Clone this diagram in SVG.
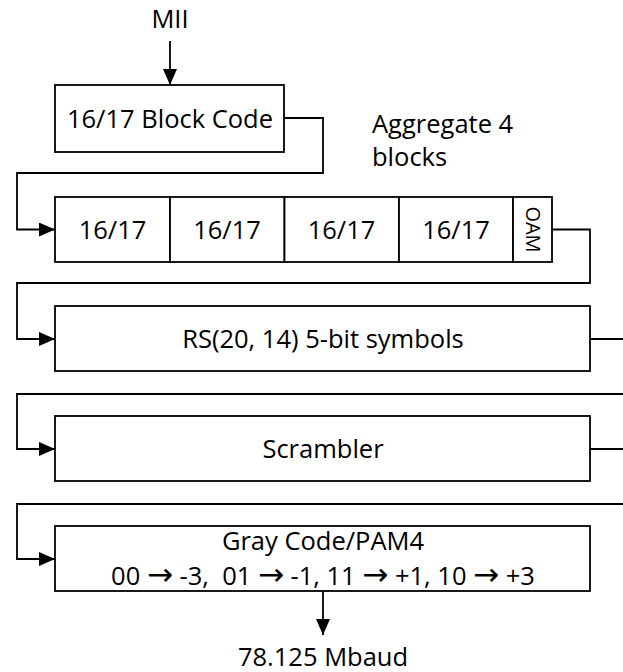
<svg xmlns="http://www.w3.org/2000/svg" width="623" height="672" viewBox="0 0 623 672">
  <style>
    .box { fill: #ffffff; stroke: #000000; stroke-width: 1.8; }
    .wire { fill: none; stroke: #000000; stroke-width: 1.8; }
    .lbl { font-family: "Open Sans", "Liberation Sans", sans-serif; font-size: 25.5px; fill: #000000; }
    .mid { text-anchor: middle; }
    .small { font-size: 20px; }
    .sym { font-family: "DejaVu Sans", sans-serif; font-size: 31px; }
  </style>
  <defs>
    <marker id="arrow" markerUnits="userSpaceOnUse" markerWidth="16" markerHeight="14" refX="16" refY="7" orient="auto">
      <path d="M0,0 L16,7 L0,14 z" fill="#000000"/>
    </marker>
  </defs>

  <rect width="623" height="672" fill="#ffffff"/>

  <!-- free labels -->
  <text id="input-label" class="lbl mid" x="170" y="28">MII</text>
  <text id="aggregate-note" class="lbl" x="372" y="133">Aggregate 4<tspan x="372" y="166">blocks</tspan></text>
  <text id="output-label" class="lbl mid" x="323" y="666">78.125 Mbaud</text>

  <!-- processing stages -->
  <g id="block-code">
    <rect class="box" x="55" y="85" width="229" height="67"/>
    <text class="lbl mid" x="170" y="128">16/17 Block Code</text>
  </g>

  <g id="aggregate">
    <rect class="box" x="55" y="197" width="115" height="65"/>
    <rect class="box" x="170" y="197" width="114.5" height="65"/>
    <rect class="box" x="284.5" y="197" width="114.5" height="65"/>
    <rect class="box" x="399" y="197" width="114" height="65"/>
    <rect class="box" x="513" y="197" width="39" height="65"/>
    <text class="lbl mid" x="112.5" y="239">16/17</text>
    <text class="lbl mid" x="227" y="239">16/17</text>
    <text class="lbl mid" x="341.5" y="239">16/17</text>
    <text class="lbl mid" x="456" y="239">16/17</text>
    <text class="lbl mid small" transform="translate(532.5,229.5) rotate(90)" x="0" y="7">OAM</text>
  </g>

  <g id="rs-fec">
    <rect class="box" x="55" y="306" width="535" height="65"/>
    <text class="lbl mid" x="323" y="348">RS(20, 14) 5-bit symbols</text>
  </g>

  <g id="scrambler">
    <rect class="box" x="55" y="416" width="535" height="65"/>
    <text class="lbl mid" x="323" y="458">Scrambler</text>
  </g>

  <g id="pam4">
    <rect class="box" x="55" y="526" width="535" height="65"/>
    <text class="lbl mid" x="323" y="550">Gray Code/PAM4</text>
    <text class="lbl mid" x="323" y="585" xml:space="preserve">00 <tspan class="sym">→</tspan> -3,  01 <tspan class="sym">→</tspan> -1, 11 <tspan class="sym">→</tspan> +1, 10 <tspan class="sym">→</tspan> +3</text>
  </g>

  <!-- connectors -->
  <g id="connectors">
    <path class="wire" d="M170,41 V85" marker-end="url(#arrow)"/>
    <path class="wire" d="M284,118 H323 V173 H17 V229.5 H55" marker-end="url(#arrow)"/>
    <path class="wire" d="M552,229.5 H590 V283 H17 V339 H55" marker-end="url(#arrow)"/>
    <path class="wire" d="M590,339 H640 V394 H17 V449 H55" marker-end="url(#arrow)"/>
    <path class="wire" d="M590,449 H640 V504 H17 V559 H55" marker-end="url(#arrow)"/>
    <path class="wire" d="M323,591 V635" marker-end="url(#arrow)"/>
  </g>
</svg>
